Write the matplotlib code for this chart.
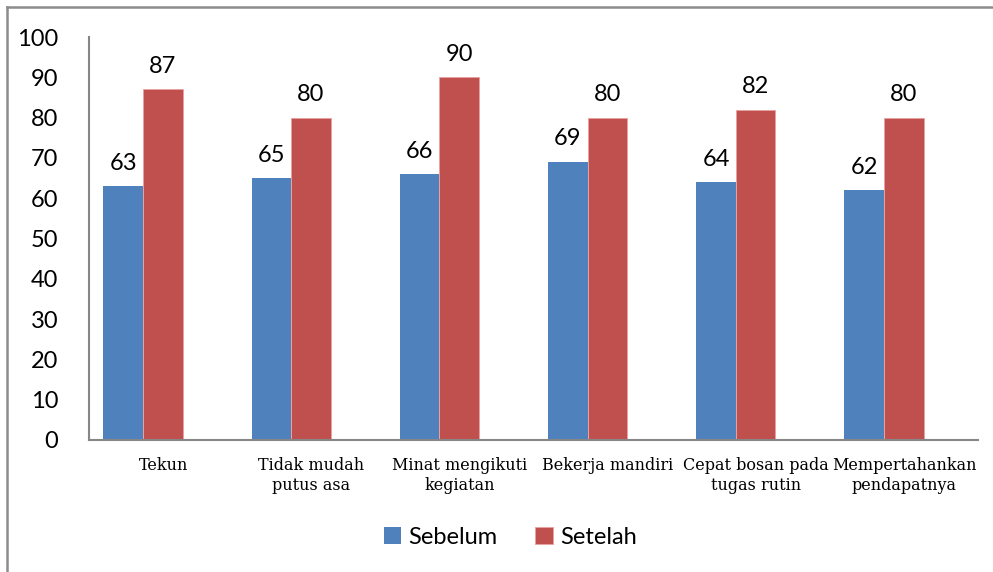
import matplotlib.pyplot as plt
import numpy as np
from matplotlib.lines import Line2D

categories = ["Tekun", "Tidak mudah\nputus asa", "Minat mengikuti\nkegiatan",
              "Bekerja mandiri", "Cepat bosan pada\ntugas rutin",
              "Mempertahankan\npendapatnya"]
sebelum = [63, 65, 66, 69, 64, 62]
setelah = [87, 80, 90, 80, 82, 80]
yticks = [0, 10, 20, 30, 40, 50, 60, 70, 80, 90, 100]

blue = "#4F81BD"
red = "#C0504D"
axis_grey = "#868686"
num_font = "Lato"
cat_font = "DejaVu Serif"

fig = plt.figure(figsize=(9.93, 5.72), dpi=100)
ax = fig.add_axes([0.0896, 0.2308, 0.8954, 0.7045])

x = np.arange(len(categories))
w = 0.267
shift = -0.135
b1 = ax.bar(x + shift - w / 2, sebelum, w, color=blue, label="Sebelum")
b2 = ax.bar(x + shift + w / 2, setelah, w, color=red, edgecolor="#E8A0A0",
            linewidth=0.6, label="Setelah")

for bars, vals in ((b1, sebelum), (b2, setelah)):
    for b, v in zip(bars, vals):
        ax.annotate(str(v), (b.get_x() + b.get_width() / 2, v),
                    xytext=(0, 9), textcoords="offset points",
                    ha="center", va="bottom", fontsize=17, family=num_font)

ax.set_xlim(-0.5, len(categories) - 0.5)
ax.set_ylim(0, 100)
ax.set_yticks(yticks)
ax.set_yticklabels([str(t) for t in yticks], fontsize=17, family=num_font)
ax.set_xticks(x)
ax.set_xticklabels(categories, fontsize=11.5, family=cat_font, linespacing=1.25)
ax.tick_params(axis="y", length=0, pad=22)
ax.tick_params(axis="x", length=0, pad=12)

for s in ("top", "right"):
    ax.spines[s].set_visible(False)
for s in ("left", "bottom"):
    ax.spines[s].set_color(axis_grey)
    ax.spines[s].set_linewidth(1.5)

ax.legend(loc="center", bbox_to_anchor=(0.514, 0.061), bbox_transform=fig.transFigure,
          ncol=2, frameon=False, prop={"family": num_font, "size": 17},
          handlelength=0.75, handleheight=0.75, handletextpad=0.3, columnspacing=1.6)

# outer frame around the chart area
fig.add_artist(Line2D([6.5 / 993, 6.5 / 993], [0, 1 - 7 / 572],
                      transform=fig.transFigure, color="#8C8C8C", linewidth=1.8))
fig.add_artist(Line2D([6.5 / 993, 1], [1 - 7 / 572, 1 - 7 / 572],
                      transform=fig.transFigure, color="#8C8C8C", linewidth=1.8))

fig.savefig("out.png", dpi=100)
